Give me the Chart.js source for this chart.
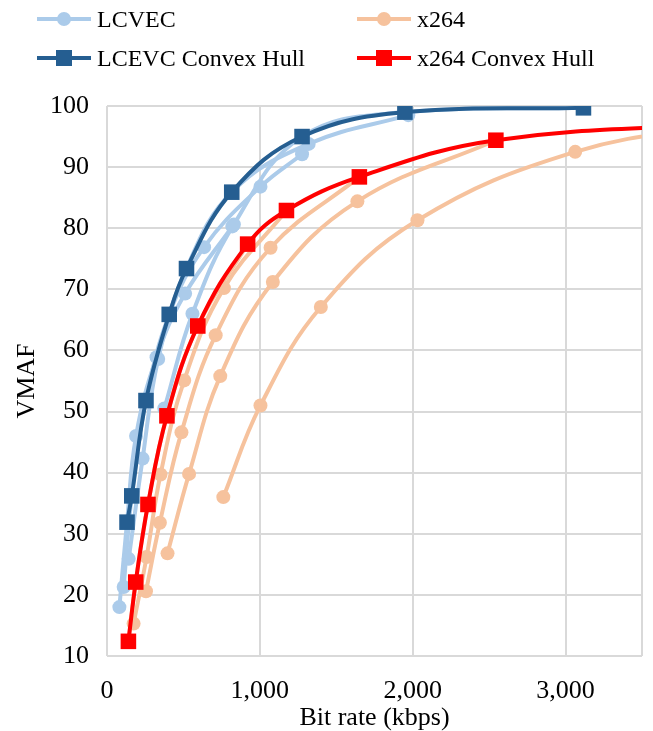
<!DOCTYPE html>
<html>
<head>
<meta charset="utf-8">
<script src="https://cdn.jsdelivr.net/npm/chart.js@4.4.1/dist/chart.umd.min.js"></script>
<style>
  body { margin: 0; background: #fff; }
  #wrap { position: relative; width: 653px; height: 731px; }
  #chart { position: absolute; left: 0; top: 0; }
  .leg { position: absolute; font-family: "Liberation Serif", serif; font-size: 24px; color: #000; white-space: nowrap; }
  .leg .ln { position: absolute; top: 50%; height: 4px; margin-top: -2px; }
  .leg .mk { position: absolute; top: 50%; }
  .leg .tx { position: absolute; top: 50%; transform: translateY(-50%); }
</style>
</head>
<body>
<div id="wrap">
  <canvas id="chart" width="653" height="731"></canvas>
  <div id="legend"></div>
</div>
<script>
// LCEVC rate/quality curves (kbps, VMAF)
var lcevcA = [[81, 18.0], [131, 31.9], [190, 46.0], [324, 58.9], [511, 69.3], [820, 80.3]];
var lcevcB = [[109, 21.3], [162, 36.2], [255, 51.8], [407, 65.9], [635, 76.9], [1004, 86.8], [1276, 92.1]];
var lcevcC = [[142, 25.9], [233, 42.3], [335, 58.6], [520, 73.4], [816, 85.9], [1319, 93.8], [1971, 98.5]];
var lcevcD = [[375, 50.5], [559, 66.0], [830, 80.6], [1276, 95.0], [1949, 99.0], [3117, 99.7]];
var lcevcHull = [[131, 31.9], [162, 36.2], [255, 51.8], [407, 65.9], [520, 73.4], [816, 85.9], [1276, 95.0], [1949, 99.0], [3117, 99.7]];

// x264 rate/quality curves
var x264A = [[174, 15.3], [259, 26.2], [350, 39.7], [505, 55.1], [765, 70.2], [1174, 82.9]];
var x264B = [[255, 20.6], [346, 31.8], [487, 46.6], [711, 62.5], [1070, 76.8], [1651, 88.4]];
var x264C = [[396, 26.8], [537, 39.8], [741, 55.8], [1085, 71.2], [1638, 84.4], [2544, 94.4]];
var x264D = [[761, 36.0], [1004, 51.0], [1399, 67.1], [2031, 81.3], [3063, 92.5], [4100, 97.2]];
var x264E = [[140, 12.4], [188, 22.1], [268, 34.8], [392, 49.3], [594, 64.0], [920, 77.4]];
var x264Hull = [[140, 12.4], [188, 22.1], [268, 34.8], [392, 49.3], [594, 64.0], [920, 77.4], [1174, 82.9], [1651, 88.4], [2544, 94.4], [4100, 97.2]];

var xTicks = [0, 1000, 2000, 3000];
var yMin = 10, yMax = 100, xMin = 0, xMax = 3500;

var legendItems = [
  { label: "LCVEC", color: "#abcbea", marker: "circle" },
  { label: "x264", color: "#f6c29d", marker: "circle" },
  { label: "LCEVC Convex Hull", color: "#255e91", marker: "square" },
  { label: "x264 Convex Hull", color: "#ff0000", marker: "square" }
];

var LIGHT_BLUE = "#abcbea";
var DARK_BLUE = "#255e91";
var LIGHT_ORANGE = "#f6c29d";
var RED = "#ff0000";
var FONT = "'Liberation Serif', serif";

function pts(arr) {
  return arr.map(function (p) { return { x: p[0], y: p[1] }; });
}

function curve(arr, color) {
  return {
    data: pts(arr),
    showLine: true,
    borderColor: color,
    backgroundColor: color,
    borderWidth: 4,
    pointStyle: "circle",
    pointRadius: 7,
    pointBorderWidth: 0,
    tension: 0.4,
    order: 2
  };
}

function hull(arr, color) {
  return {
    data: pts(arr),
    showLine: true,
    borderColor: color,
    backgroundColor: color,
    borderWidth: 4,
    pointStyle: "rect",
    pointRadius: 11,
    pointBorderWidth: 0,
    tension: 0.4,
    order: 1
  };
}

var datasets = [
  curve(x264D, LIGHT_ORANGE), curve(x264C, LIGHT_ORANGE), curve(x264B, LIGHT_ORANGE),
  curve(x264A, LIGHT_ORANGE), curve(x264E, LIGHT_ORANGE),
  curve(lcevcD, LIGHT_BLUE), curve(lcevcC, LIGHT_BLUE), curve(lcevcB, LIGHT_BLUE), curve(lcevcA, LIGHT_BLUE),
  hull(x264Hull, RED), hull(lcevcHull, DARK_BLUE)
];

new Chart(document.getElementById("chart"), {
  type: "scatter",
  data: { datasets: datasets },
  options: {
    responsive: false,
    animation: false,
    layout: { padding: { top: 106, right: 9, left: 0, bottom: 0 } },
    plugins: { legend: { display: false }, tooltip: { enabled: false } },
    scales: {
      x: {
        type: "linear",
        min: xMin,
        max: xMax,
        afterBuildTicks: function (scale) {
          scale.ticks = xTicks.concat([xMax]).map(function (v) { return { value: v }; });
        },
        afterFit: function (scale) {
          scale.height = 75;
          scale.paddingLeft = 0;
          scale.paddingRight = 0;
        },
        grid: { color: "#d9d9d9", lineWidth: 2, drawTicks: false },
        border: { display: false },
        ticks: {
          padding: 20,
          color: "#000",
          font: { family: FONT, size: 26 },
          maxRotation: 0,
          callback: function (v) { return v === xMax ? "" : v.toLocaleString("en-US"); }
        },
        title: { display: true, text: "Bit rate (kbps)", color: "#000", font: { family: FONT, size: 26, lineHeight: 1.0 }, padding: { top: 0, bottom: 0 } }
      },
      y: {
        min: yMin,
        max: yMax,
        afterFit: function (scale) { scale.width = 107; },
        grid: { color: "#d9d9d9", lineWidth: 2, drawTicks: false },
        border: { display: false },
        ticks: { stepSize: 10, padding: 18, color: "#000", font: { family: FONT, size: 26 } },
        title: { display: true, text: "VMAF", color: "#000", font: { family: FONT, size: 26 }, padding: { top: 12, bottom: 0 } }
      }
    }
  }
});

// legend, two columns like the original
var legendPos = [[37, 19], [357, 19], [37, 58], [357, 58]];
var legendEl = document.getElementById("legend");
legendItems.forEach(function (it, i) {
  var d = document.createElement("div");
  d.className = "leg";
  d.style.left = legendPos[i][0] + "px";
  d.style.top = (legendPos[i][1] - 15) + "px";
  d.style.height = "30px";
  d.style.width = "280px";
  var ln = document.createElement("div");
  ln.className = "ln";
  ln.style.left = "0px";
  ln.style.width = "54px";
  ln.style.background = it.color;
  d.appendChild(ln);
  var mk = document.createElement("div");
  mk.className = "mk";
  var s = it.marker === "circle" ? 14 : 16;
  mk.style.width = s + "px";
  mk.style.height = s + "px";
  mk.style.left = (27 - s / 2) + "px";
  mk.style.marginTop = (-s / 2) + "px";
  mk.style.background = it.color;
  if (it.marker === "circle") mk.style.borderRadius = "50%";
  d.appendChild(mk);
  var tx = document.createElement("div");
  tx.className = "tx";
  tx.style.left = "60px";
  tx.textContent = it.label;
  d.appendChild(tx);
  legendEl.appendChild(d);
});
</script>
</body>
</html>
